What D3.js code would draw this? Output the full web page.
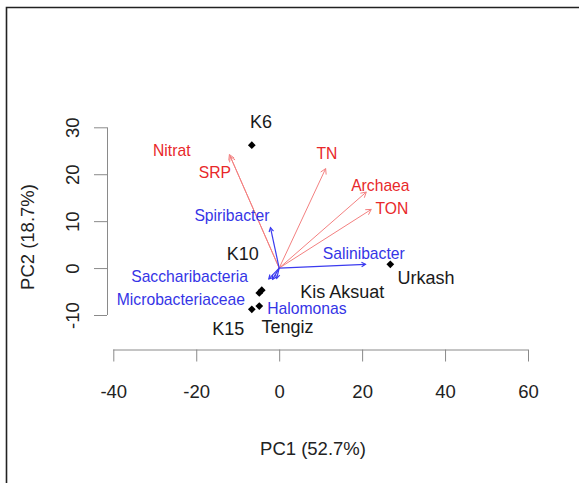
<!DOCTYPE html>
<html>
<head>
<meta charset="utf-8">
<script src="https://cdn.jsdelivr.net/npm/d3@7"></script>
<style>
  html, body { margin: 0; padding: 0; background: #fff; }
  svg { display: block; font-family: "Liberation Sans", Arial, sans-serif; }
</style>
</head>
<body>
<svg id="chart" width="579" height="483"></svg>
<script>
// Sites (PCA scores)
const siteNames = ["K6", "K10", "Kis Aksuat", "Urkash", "K15", "Tengiz"];
const siteX = [-6.6, -4.8, -4.2, 26.8, -6.6, -4.8];
const siteY = [26.2, -5.3, -4.7, 0.8, -8.8, -8.1];
// where R put the site labels (data units)
const siteLabelX = [-4.4, -8.8, 15.2, 35.4, -12.3, 2.0];
const siteLabelY = [31.1, 2.9, -5.2, -2.1, -12.9, -12.6];

// Environmental variables (red arrows)
const envNames = ["Nitrat", "SRP", "TN", "Archaea", "TON"];
const envX = [-12.0, -11.8, 11.2, 21.0, 22.2];
const envY = [24.2, 23.8, 21.2, 16.2, 12.5];
const envLabelX = [-25.9, -15.5, 11.5, 24.4, 27.2];
const envLabelY = [25.1, 20.3, 24.4, 17.6, 12.7];

// Taxa (blue arrows)
const taxaNames = ["Spiribacter", "Saccharibacteria", "Microbacteriaceae", "Halomonas", "Salinibacter"];
const taxaX = [-2.1, -2.5, -1.6, -0.6, 20.8];
const taxaY = [8.6, -2.3, -2.4, -2.2, 0.8];
const taxaLabelX = [-11.4, -21.6, -23.7, 6.7, 20.4];
const taxaLabelY = [11.2, -1.8, -6.7, -8.7, 3.1];

const xTicks = [-40, -20, 0, 20, 40, 60];
const yTicks = [-10, 0, 10, 20, 30];
const xTitle = "PC1 (52.7%)";
const yTitle = "PC2 (18.7%)";

const svg = d3.select("#chart");

// outer frame (only top/left edges fall inside the picture)
svg.append("path")
    .attr("d", "M6.5,600 V7.5 H700")
    .attr("fill", "none")
    .attr("stroke", "#222")
    .attr("stroke-width", 1.6);

const x = d3.scaleLinear().domain([-40, 60]).range([113.3, 528]);
const y = d3.scaleLinear().domain([-10, 30]).range([315, 127.3]);

const axisColor = "#8a8a8a";
const textColor = "#222";

// x axis, R style: line spans first..last tick, ticks point down
const gx = svg.append("g").attr("transform", "translate(0,349.5)")
    .call(d3.axisBottom(x).tickValues(xTicks).tickFormat(d => String(d))
        .tickSize(12).tickSizeOuter(0).tickPadding(23));
gx.select(".domain").attr("stroke", axisColor).attr("d", `M${x(-40)},0.5H${x(60)}`);
gx.selectAll(".tick line").attr("stroke", axisColor);
gx.selectAll(".tick text").attr("fill", textColor).attr("font-size", "18.5px")
    .attr("font-family", "Liberation Sans, Arial, sans-serif");

// y axis
const gy = svg.append("g").attr("transform", "translate(107,0)")
    .call(d3.axisLeft(y).tickValues(yTicks).tickFormat(d => String(d))
        .tickSize(13).tickSizeOuter(0));
gy.select(".domain").attr("stroke", axisColor).attr("d", `M0.5,${y(-10)}V${y(30)}`);
gy.selectAll(".tick line").attr("stroke", axisColor);
gy.selectAll(".tick text")
    .attr("fill", textColor)
    .attr("font-size", "18.5px")
    .attr("font-family", "Liberation Sans, Arial, sans-serif")
    .attr("x", null).attr("dy", null)
    .attr("text-anchor", "middle")
    .attr("dominant-baseline", "central")
    .attr("transform", "translate(-35,0) rotate(-90)");

// axis titles
svg.append("text")
    .attr("x", 313).attr("y", 448)
    .attr("text-anchor", "middle").attr("dominant-baseline", "central")
    .attr("font-size", "18.5px").attr("fill", textColor)
    .text(xTitle);
svg.append("text")
    .attr("transform", "translate(27,237) rotate(-90)")
    .attr("text-anchor", "middle").attr("dominant-baseline", "central")
    .attr("font-size", "18.5px").attr("fill", textColor)
    .text(yTitle);

// arrows from the origin
function drawArrows(xs, ys, color, width, head) {
    const g = svg.append("g").attr("stroke", color).attr("stroke-width", width).attr("fill", "none");
    xs.forEach((vx, i) => {
        const x0 = x(0), y0 = y(0), x1 = x(vx), y1 = y(ys[i]);
        const a = Math.atan2(y1 - y0, x1 - x0);
        const spread = Math.PI / 6;
        g.append("line").attr("x1", x0).attr("y1", y0).attr("x2", x1).attr("y2", y1);
        g.append("path").attr("d",
            `M${x1 - head * Math.cos(a - spread)},${y1 - head * Math.sin(a - spread)}` +
            `L${x1},${y1}` +
            `L${x1 - head * Math.cos(a + spread)},${y1 - head * Math.sin(a + spread)}`);
    });
}
drawArrows(envX, envY, "#f38080", 1, 6);
drawArrows(taxaX, taxaY, "#3b3bef", 1.2, 4.5);

// sites
svg.append("g").selectAll("path")
    .data(siteNames)
    .join("path")
    .attr("d", d3.symbol(d3.symbolSquare, 30))
    .attr("transform", (d, i) => `translate(${x(siteX[i])},${y(siteY[i])}) rotate(45)`)
    .attr("fill", "#000");

function drawLabels(names, lx, ly, color, size) {
    svg.append("g").selectAll("text")
        .data(names)
        .join("text")
        .attr("x", (d, i) => x(lx[i]))
        .attr("y", (d, i) => y(ly[i]))
        .attr("text-anchor", "middle")
        .attr("dominant-baseline", "central")
        .attr("font-size", size)
        .attr("fill", color)
        .text(d => d);
}
drawLabels(siteNames, siteLabelX, siteLabelY, "#1a1a1a", "18px");
drawLabels(envNames, envLabelX, envLabelY, "#e8282a", "15.7px");
drawLabels(taxaNames, taxaLabelX, taxaLabelY, "#3535e6", "15.7px");
</script>
</body>
</html>
